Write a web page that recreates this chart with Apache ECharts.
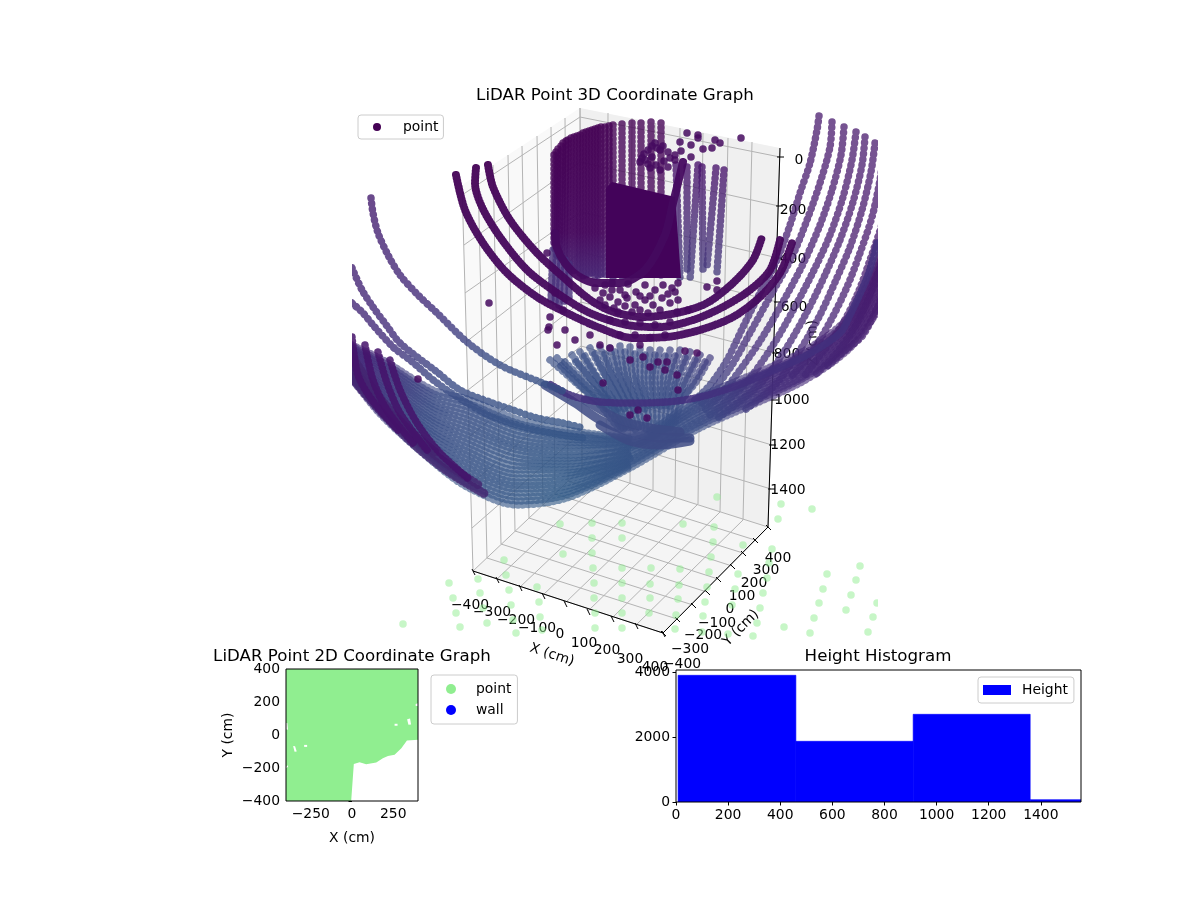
<!DOCTYPE html>
<html><head><meta charset="utf-8">
<style>html,body{margin:0;padding:0;background:#fff}#c{width:1200px;height:900px}</style>
<script src="https://cdn.jsdelivr.net/npm/echarts@6/dist/echarts.min.js"></script>
</head><body><div id="c"></div>
<script>
/* ---------- 3D panel: everything is read in the panel's view plane ---------- */
const paneLeft  = [[462,185],[580,108],[582,468],[473,571]];
const paneRight = [[580,108],[780,148],[768,527],[582,468]];
const paneFloor = [[473,571],[582,468],[768,527],[663,633]];
const panelMaskRight = [[878,100],[900,100],[900,636],[878,636]];
const panelMaskLeft  = [[335,100],[352,100],[352,636],[335,636]];

const xTickFront = [[473,571],[497,579],[520,587],[543,595],[565,603],[588,611],[612,618],[636,625],[663,633]];
const xTickBack  = [[582,468],[606,476],[630,483],[653,490],[675,497],[698,504],[720,512],[743,520],[768,527]];
const xTickTop   = [[580,108],[608,113],[632,118],[655,123],[680,128],[703,133],[728,138],[752,142],[780,148]];
const yTickFront = [[663,633],[677,619],[693,605],[707,592],[718,579],[732,566],[743,553],[755,540],[768,527]];
const yTickBack  = [[473,571],[487,558],[501,544],[515,531],[529,518],[543,505],[555,494],[568,481],[582,468]];
const yTickTop   = [[462,185],[478,175],[493,165],[508,155],[522,146],[537,136],[551,127],[565,118],[580,108]];
const zTickRight = [[780,157],[779,206],[778,258],[777,302],[775,353],[774,400],[772,445],[771,489]];
const zTickBack  = [[580,117],[580,162],[581,212],[581,252],[581,302],[581,346],[582,389],[582,432]];
const zTickLeft  = [[462,195],[464,245],[465,293],[466,342],[468,390],[469,437],[471,484],[472,528]];

const xTickLabels = ['−400','−300','−200','−100','0','100','200','300','400'];
const xTickLabelAt = [[470,605],[492,612],[516,620],[537,628],[560,634],[584,643],[607,650],[630,659],[655,667]];
const yTickLabels = ['−400','−300','−200','−100','0','100','200','300','400'];
const yTickLabelAt = [[682,664],[690,649],[703,635],[717,623],[730,609],[742,596],[754,583],[766,570],[778,558]];
const zTickLabels = ['0','200','400','600','800','1000','1200','1400'];
const zTickLabelAt = [[799,160],[793,210],[793,259],[794,307],[787,354],[792,400],[788,445],[788,490]];

const groundPoints = [[560,524],[592,523],[622,523],[592,538],[622,538],[563,554],[592,553],[504,560],[506,575],[593,568],[622,568],[449,583],[478,579],[594,583],[622,583],[509,590],[537,587],[480,593],[453,598],[594,598],[622,598],[511,605],[539,602],[483,608],[456,613],[595,613],[622,613],[540,617],[513,620],[487,623],[403,624],[460,627],[595,628],[622,628],[542,630],[516,633],[490,637],[717,497],[781,504],[812,509],[778,519],[683,524],[714,527],[713,542],[743,545],[772,549],[711,557],[769,563],[651,568],[680,569],[709,572],[860,566],[827,574],[738,574],[767,578],[856,580],[650,584],[679,585],[707,587],[735,589],[823,589],[763,593],[851,595],[650,598],[678,599],[705,602],[877,603],[819,603],[760,608],[846,610],[649,613],[676,615],[703,616],[873,617],[814,618],[732,605],[757,623],[784,627],[675,629],[702,632],[728,634],[810,633],[868,632],[753,636]];

const looseDark = [[489,303],[547,253],[549,327],[418,379],[603,383],[687,133],[698,135],[680,142],[691,145],[698,138],[715,140],[720,143],[712,148],[703,149],[741,138],[681,151],[691,157],[675,155],[668,152],[655,143],[648,150],[660,150],[645,160],[650,168],[660,170],[668,167],[675,160],[652,157],[640,162],[657,148],[652,146],[663,146],[644,154],[642,158],[656,165],[664,161],[670,158],[648,164],[605,285],[612,283],[620,290],[628,284],[636,292],[645,285],[655,290],[663,285],[672,288],[678,283],[610,297],[618,302],[627,298],[635,305],[645,300],[653,305],[662,298],[670,303],[678,300],[677,312],[660,310],[648,313],[632,312],[618,312],[605,305],[688,310],[707,287],[717,281],[717,290],[610,320],[625,322],[640,323],[655,325],[670,322],[620,335],[635,335],[650,338],[665,335],[600,345],[640,345],[590,335],[575,340],[565,330],[557,345],[610,348],[630,360],[643,357],[650,367],[658,362],[667,362],[665,370],[677,375],[685,351],[697,353],[678,390],[630,415],[638,410],[647,418],[550,317],[548,330],[563,310],[555,293],[603,293],[625,295],[612,290],[640,296],[650,296],[668,294],[675,292],[600,300],[595,288],[614,308],[625,306],[640,310]];

const innerArc  = [[488,165],[493,187],[510,220],[537,253],[563,277],[585,296],[600,306],[617,313],[643,317],[677,313],[707,303],[733,283],[753,260],[762,237]];
const middleArc = [[476,168],[475,183],[482,207],[500,237],[527,270],[557,293],[590,313],[627,325],[660,327],[693,320],[723,307],[750,290],[770,270],[780,240]];
const outerArc  = [[456,175],[465,210],[483,243],[507,273],[537,297],[567,313],[600,328],[633,338],[667,337],[700,330],[733,317],[760,297],[780,273],[792,243]];
const smallArc  = [[555,233],[557,248],[565,263],[578,276],[597,283],[620,283],[645,270],[665,235],[673,203],[678,183],[683,162]];

const cylinderTops = [[554,155],[556,152],[558,149],[561,146],[563,143],[566,141],[568,140],[571,138],[574,137],[577,136],[580,135],[583,133],[586,132],[589,131],[592,130],[595,129],[598,128],[601,127],[605,127],[609,126],[613,125],[622,124],[632,123],[641,123],[651,122],[661,123]];
const cylinderFeet = [[554,245],[555,250],[557,255],[559,259],[561,262],[564,265],[567,268],[570,270],[574,272],[577,274],[580,275],[583,276],[586,276],[589,277],[592,277],[595,277],[598,277],[601,277],[605,277],[609,277],[613,277],[622,277],[632,277],[641,277],[651,277],[661,277]];
const sideStripeTops = [[687,167],[698,165],[702,167],[716,168],[724,170],[676,165]];
const sideStripeFeet = [[687,273],[690,280],[703,270],[707,267],[717,272],[680,278]];
const streamTops = [[553,250],[557,252],[561,256],[565,260],[569,264]];
const streamFeet = [[551,300],[555,305],[559,306],[564,304],[569,300]];
const blockOutline = [[606,188],[612,182],[675,197],[681,278],[606,278]];

const arcA  = [[371,198],[373,213],[378,233],[388,255],[400,275],[418,295],[437,313],[467,342],[500,365],[540,382],[565,392]];
const arcB1 = [[352,268],[362,290],[373,307],[387,326],[400,343],[437,372],[460,390],[490,402],[513,410],[537,418],[563,423],[583,428]];
const arcB2 = [[352,303],[363,313],[373,325],[393,347],[410,360],[437,383],[467,403],[493,417],[535,430],[583,438]];
const arcBand = [[877,243],[868,275],[850,315],[840,333],[807,355],[767,373],[733,387],[700,397],[667,402],[633,403],[600,402],[570,395],[548,383]];

const darkLeft1 = [[390,360],[400,390],[417,423],[440,453],[470,480]];
const darkLeft2 = [[378,352],[387,383],[400,413],[427,450]];
const darkLeft3 = [[365,345],[373,380],[387,410],[413,443]];
const darkLeft4 = [[352,337],[358,375],[372,400],[398,430]];
const darkEdge1 = [[352,378],[383,414],[417,447],[450,473],[485,494]];
const darkEdge2 = [[352,368],[383,406],[417,440],[450,466],[480,486]];
const darkEdge3 = [[352,356],[375,392],[405,426],[435,452]];

const wedge1 = [[545,385],[575,403],[600,420],[630,432],[660,438],[690,438]];
const wedge2 = [[600,425],[630,441],[660,445],[690,441]];
const wedge3 = [[585,400],[620,420],[650,428],[680,432]];

const fanR1  = [[819,116],[817,130],[810,163],[800,193],[790,225],[777,260],[760,293],[743,327],[727,360],[710,385],[695,400]];
const fanR2  = [[832,122],[830,147],[820,183],[807,220],[792,257],[772,293],[750,333],[732,365],[712,392],[700,405]];
const fanR3  = [[844,127],[841,155],[832,190],[820,225],[804,262],[784,300],[762,338],[740,370],[720,395],[705,410]];
const fanR4  = [[856,132],[852,160],[843,197],[830,235],[815,268],[796,305],[775,342],[750,378],[728,400],[710,415]];
const fanR5  = [[865,137],[862,165],[853,202],[840,240],[825,275],[808,310],[787,347],[762,382],[735,405],[718,418]];
const fanR6  = [[875,143],[871,172],[862,210],[850,247],[836,280],[820,315],[800,350],[775,385],[745,410]];
const fanR7  = [[884,150],[880,180],[872,217],[860,253],[847,287],[831,320],[812,352],[790,378]];
const fanR8  = [[891,188],[882,224],[870,260],[858,293],[842,325],[824,350],[805,375]];
const fanR9  = [[892,232],[880,267],[868,300],[853,330],[835,355],[815,375]];
const fanR10 = [[890,275],[878,306],[863,335],[846,350],[825,368]];

const fanC = [
 [[550,360],[575,382],[600,405],[618,428]],[[557,358],[580,380],[605,405],[621,428]],
 [[565,362],[585,382],[610,405],[624,430]],[[572,355],[590,378],[613,405],[627,430]],
 [[580,352],[595,375],[617,405],[630,430]],[[590,348],[603,372],[622,405],[633,430]],
 [[600,347],[610,372],[627,405],[636,432]],[[610,348],[617,372],[632,405],[640,432]],
 [[620,346],[624,372],[637,405],[643,432]],[[630,347],[632,372],[642,405],[647,432]],
 [[640,349],[640,375],[647,405],[650,432]],[[650,350],[648,375],[652,405],[654,432]],
 [[660,350],[655,375],[657,405],[657,432]],[[670,350],[664,375],[662,405],[660,432]],
 [[680,350],[672,375],[667,403],[664,430]],[[690,352],[680,375],[672,402],[667,430]],
 [[700,355],[688,378],[677,402],[670,428]],[[710,358],[696,382],[682,400],[674,426]],
 [[561,366],[583,388],[608,410]],[[576,362],[593,382],[615,410]],[[585,356],[599,380],[620,410]],
 [[595,354],[607,378],[625,410]],[[605,354],[614,378],[630,410]],[[615,352],[621,378],[635,410]],
 [[625,352],[628,378],[640,410]],[[635,354],[636,378],[645,410]],[[645,355],[644,380],[650,410]],
 [[655,355],[652,380],[655,410]],[[665,356],[660,380],[660,410]],[[675,356],[668,380],[665,408]],
 [[685,358],[676,380],[670,406]],[[695,360],[684,382],[675,406]],[[705,362],[692,384],[680,404]]
];

const bowlRow0  = [[340,368],[352,380],[383,417],[433,462],[467,487],[517,505],[567,498],[630,468],[700,428],[800,383],[850,348],[885,300]];
const bowlRow1  = [[352,377],[383,412],[433,456],[467,479],[517,497],[567,492],[630,465],[700,425],[800,380],[850,345],[885,295]];
const bowlRow2  = [[352,374],[383,407],[433,449],[467,471],[517,489],[567,486],[630,462],[700,422],[800,378],[850,342],[885,289]];
const bowlRow3  = [[352,370],[383,401],[433,443],[467,463],[517,482],[567,479],[630,460],[700,420],[800,375],[850,339],[885,284]];
const bowlRow4  = [[352,367],[383,396],[433,436],[467,455],[517,474],[567,473],[630,457],[700,417],[800,372],[850,336],[885,278]];
const bowlRow5  = [[352,364],[383,391],[433,430],[467,447],[517,466],[567,467],[630,454],[700,414],[800,370],[850,333],[885,273]];
const bowlRow6  = [[352,361],[383,386],[433,423],[467,439],[517,458],[567,461],[630,451],[700,411],[800,367],[850,330],[885,267]];
const bowlRow7  = [[352,358],[383,381],[433,417],[467,431],[517,450],[567,455],[630,448],[700,408],[800,364],[850,327],[885,262]];
const bowlRow8  = [[352,354],[383,375],[433,410],[467,423],[517,443],[567,448],[630,446],[700,406],[800,361],[850,324],[885,256]];
const bowlRow9  = [[352,351],[383,370],[433,404],[467,415],[517,435],[567,442],[630,443],[700,403],[800,359],[850,321],[885,250]];
const bowlRow10 = [[352,348],[383,365],[433,397],[467,407],[517,427],[567,436],[630,440],[700,400],[800,356],[850,318],[885,245]];
const bowlRow11 = [[352,345],[383,360],[433,390],[467,399],[517,419],[567,430],[630,437],[700,397],[800,353],[850,315],[885,240]];
const bowlHalf0  = [[352,378.5],[383,414.5],[433,459],[467,483],[517,501],[567,495],[630,466.5]];
const bowlHalf1  = [[352,375.5],[383,409.5],[433,452.5],[467,475],[517,493],[567,489],[630,463.5]];
const bowlHalf2  = [[352,372],[383,404],[433,446],[467,467],[517,485.5],[567,482.5],[630,461]];
const bowlHalf3  = [[352,368.5],[383,398.5],[433,439.5],[467,459],[517,478],[567,476],[630,458.5]];
const bowlHalf4  = [[352,365.5],[383,393.5],[433,433],[467,451],[517,470],[567,470],[630,455.5]];
const bowlHalf5  = [[352,362.5],[383,388.5],[433,426.5],[467,443],[517,462],[567,464],[630,452.5]];
const bowlHalf6  = [[352,359.5],[383,383.5],[433,420],[467,435],[517,454],[567,458],[630,449.5]];
const bowlHalf7  = [[352,356],[383,378],[433,413.5],[467,427],[517,446.5],[567,451.5],[630,447]];
const bowlHalf8  = [[352,352.5],[383,372.5],[433,407],[467,419],[517,439],[567,445],[630,444.5]];
const bowlHalf9  = [[352,349.5],[383,367.5],[433,400.5],[467,411],[517,431],[567,439],[630,441.5]];
const bowlHalf10 = [[352,346.5],[383,362.5],[433,393.5],[467,403],[517,423],[567,433],[630,438.5]];

/* ---------- 2D coordinate map ---------- */
const mapTicksX = [-250,0,250];
const mapGreen  = [[-400,-400],[-5,-400],[11,-175],[46,-165],[86,-177],[147,-167],[187,-141],[218,-127],[258,-120],[299,-80],[333,-33],[400,-29],[400,400],[-400,400]];
const mapHole1  = [[-400,72],[-392,72],[-388,32],[-400,35]];
const mapHole2  = [[-357,-66],[-345,-68],[-335,-100],[-348,-102]];
const mapHole3  = [[-290,-60],[-272,-60],[-272,-72],[-290,-72]];
const mapHole4  = [[-400,-192],[-388,-184],[-388,-194],[-400,-200]];
const mapHole5  = [[258,68],[276,68],[276,56],[258,56]];
const mapHole6  = [[334,96],[352,100],[358,64],[342,62]];
const mapHole7  = [[386,188],[400,192],[400,176],[386,176]];

/* ---------- histogram ---------- */
const histEdges  = [8,460,910,1359,1809];
const histCounts = [3897,1867,2697,72];
const histTicksX = [0,200,400,600,800,1000,1200,1400];

/* ---------- styles ---------- */
const FONT = '"DejaVu Sans"';
const bowlGrad = {type:'radial',x:560,y:500,r:400,global:true,colorStops:[
  {offset:0,color:'#315a87'},{offset:.4,color:'#3a4c85'},{offset:.6,color:'#432c7a'},{offset:1,color:'#46176b'}]};
const topGrad = {type:'linear',x:0,y:130,x2:0,y2:320,global:true,colorStops:[
  {offset:0,color:'#440154'},{offset:1,color:'#450a5f'}]};
const cylGrad = {type:'linear',x:0,y:130,x2:0,y2:300,global:true,colorStops:[
  {offset:0,color:'#440154'},{offset:.6,color:'#45075c'},{offset:1,color:'#473480'}]};
const stripeGrad = {type:'linear',x:0,y:165,x2:0,y2:285,global:true,colorStops:[
  {offset:0,color:'#47116a'},{offset:1,color:'#46407f'}]};

const series = [];
function poly(list,color,grid,z,name){
  series.push({type:'custom',name:name,xAxisIndex:grid,yAxisIndex:grid,z:z,silent:true,animation:false,
    clip:true,
    data:list.map(p=>[p[0][0],p[0][1]]),
    renderItem:(params,api)=>({type:'polygon',
      shape:{points:list[params.dataIndex].map(p=>api.coord(p))},
      style:{fill:color}})});
}
function segs(list,color,width,z){
  series.push({type:'custom',xAxisIndex:0,yAxisIndex:0,z:z,silent:true,animation:false,clip:false,
    data:list,
    renderItem:(params,api)=>{
      const a=api.coord([api.value(0),api.value(1)]),b=api.coord([api.value(2),api.value(3)]);
      return {type:'line',shape:{x1:a[0],y1:a[1],x2:b[0],y2:b[1]},style:{stroke:color,lineWidth:width,fill:null}};
    }});
}
const join=(a,b)=>a.map((p,i)=>[p[0],p[1],b[i][0],b[i][1]]);
function texts(at,labels,rotate,z){
  series.push({type:'scatter',xAxisIndex:0,yAxisIndex:0,z:z,silent:true,animation:false,clip:false,symbolSize:0,
    itemStyle:{opacity:1},
    data:at.map((p,i)=>({value:p,label:{formatter:labels[i]}})),
    label:{show:true,position:'inside',color:'#000',textBorderWidth:0,fontFamily:FONT,fontSize:13.9,rotate:rotate||0}});
}
function dots(arc,color,opts){
  opts=opts||{};
  series.push({type:'line',name:opts.name,xAxisIndex:1,yAxisIndex:1,z:opts.z||5,silent:true,animation:false,clip:true,
    showSymbol:false,symbol:'none',smooth:opts.smooth===undefined?0.3:opts.smooth,connectNulls:false,
    data:arc,
    lineStyle:{width:opts.w||7,color:color,opacity:opts.o||0.72,cap:'round',join:'round',
      type:opts.solid?'solid':[0.1,opts.gap||6]}});
}

/* panes and wall grid */
poly([paneLeft],'#f9f9f9',0,1);
poly([paneRight],'#f0f0f0',0,1);
poly([paneFloor],'#f5f5f5',0,1);
const gridCol='#b4b4b4';
segs(join(xTickBack,xTickTop),gridCol,1,1.1);
segs(join(yTickBack,yTickTop),gridCol,1,1.1);
segs(join(zTickLeft,zTickBack),gridCol,1,1.1);
segs(join(zTickBack,zTickRight),gridCol,1,1.1);
segs(join(xTickFront,xTickBack),gridCol,1,1.1);
segs(join(yTickFront,yTickBack),gridCol,1,1.1);
/* axis lines */
segs([[473,571,663,633],[663,633,768,527],[780,148,768,527]],'#000',1,1.2);
segs(xTickFront.map(p=>[p[0]-1,p[1]-2,p[0]+2,p[1]+4]),'#000',1,1.2);
segs(yTickFront.map(p=>[p[0]-2,p[1]-2,p[0]+3,p[1]+3]),'#000',1,1.2);
segs(zTickRight.map(p=>[p[0]-3,p[1],p[0]+4,p[1]]),'#000',1,1.2);
/* tick labels and axis names */
texts(xTickLabelAt,xTickLabels,0,1.3);
texts(yTickLabelAt,yTickLabels,0,1.3);
texts(zTickLabelAt,zTickLabels,0,1.3);
texts([[552,655]],['X (cm)'],-18,1.3);
texts([[741,628]],['Y (cm)'],45,1.3);
texts([[813,343]],['Z (cm)'],92,1.3);

/* ground shadow */
series.push({type:'scatter',xAxisIndex:1,yAxisIndex:1,z:2,silent:true,animation:false,clip:true,
  data:groundPoints,symbolSize:7.5,itemStyle:{color:'#90ee90',opacity:0.5}});

/* bowl rows, fans, arcs */
[bowlRow0,bowlRow1,bowlRow2,bowlRow3,bowlRow4,bowlRow5,bowlRow6,bowlRow7,bowlRow8,bowlRow9,bowlRow10,bowlRow11,
 bowlHalf0,bowlHalf1,bowlHalf2,bowlHalf3,bowlHalf4,bowlHalf5,bowlHalf6,bowlHalf7,bowlHalf8,bowlHalf9,bowlHalf10]
  .forEach(r=>dots(r,bowlGrad,{z:3,gap:5,o:.62,w:7.5}));
[darkEdge3,darkEdge2,darkEdge1].forEach(r=>dots(r,'#44246f',{z:3.1,gap:4,o:.8,w:9}));
[fanR1,fanR2,fanR3,fanR4,fanR5,fanR6,fanR7,fanR8,fanR9,fanR10].forEach(r=>dots(r,bowlGrad,{z:3,gap:5.5,o:.74,w:7.5}));
fanC.forEach(r=>dots(r,bowlGrad,{z:3,gap:5.5,o:.68,w:7.5}));
[wedge3,wedge1,wedge2].forEach(r=>dots(r,'#3d4a84',{z:3.2,solid:true,w:9,o:.85}));
dots(arcBand,'#42307d',{z:3.4,gap:4,o:.88,w:7.5});
[arcA,arcB1,arcB2].forEach(r=>dots(r,bowlGrad,{z:3.4,gap:5.5,o:.8,w:7.5}));
[darkLeft4,darkLeft3,darkLeft2,darkLeft1].forEach(r=>dots(r,'#44126a',{z:3.5,gap:4,o:.85,w:7.5}));

/* cylinder and stripes */
cylinderTops.forEach((t,i)=>dots([t,cylinderFeet[i]],cylGrad,{z:4,gap:4.5,smooth:false,o:.78,w:7.5}));
sideStripeTops.forEach((t,i)=>dots([t,sideStripeFeet[i]],stripeGrad,{z:4,gap:5,smooth:false,o:.78,w:7.5}));
streamTops.forEach((t,i)=>dots([t,streamFeet[i]],'#47307b',{z:4,gap:4,smooth:false,o:.8,w:7.5}));
[innerArc,middleArc,outerArc].forEach(r=>dots(r,topGrad,{z:5,gap:3,o:.95,w:8}));
poly([blockOutline],'#43035a',1,6);
dots(smallArc,'#450a5f',{z:6,solid:true,w:8,o:.95});

/* loose returns: named "point" for the 3D legend */
series.push({type:'scatter',name:'point',xAxisIndex:1,yAxisIndex:1,z:7,silent:true,animation:false,clip:true,
  data:looseDark,symbolSize:7.5,itemStyle:{color:'#450a5f',opacity:.85}});

/* panel boundary: marks stop at the panel's edge */
poly([panelMaskRight,panelMaskLeft],'#ffffff',0,8);

/* 2D map */
poly([mapGreen],'#90ee90',2,2,'point2d');
poly([mapHole1,mapHole2,mapHole3,mapHole4,mapHole5,mapHole6,mapHole7],'#ffffff',2,3);
series.push({type:'scatter',name:'wall',xAxisIndex:2,yAxisIndex:2,data:[],itemStyle:{color:'#0000ff',opacity:1},animation:false});

/* histogram */
series.push({type:'custom',name:'Height',xAxisIndex:3,yAxisIndex:3,z:2,silent:true,animation:false,clip:true,
  itemStyle:{color:'#0000ff'},
  data:histCounts.map((c,i)=>[histEdges[i],c,histEdges[i+1]]),
  encode:{x:[0,2],y:1},
  renderItem:(params,api)=>{
    const a=api.coord([api.value(0),api.value(1)]),b=api.coord([api.value(2),0]);
    return {type:'rect',shape:{x:a[0],y:a[1],width:b[0]-a[0],height:b[1]-a[1]},style:{fill:'#0000ff',stroke:'#0000ff',lineWidth:.6}};
  }});

const tickLabel={color:'#000',fontFamily:FONT,fontSize:13.9,margin:6,hideOverlap:false,
  formatter:v=>String(v).replace('-','−')};
const lineBlack={show:false};
const tick={show:true,length:3.5,lineStyle:{color:'#000',width:1},inside:false};
const titleStyle={color:'#000',fontFamily:FONT,fontSize:16.67,fontWeight:'normal'};
const legendBase={orient:'vertical',selectedMode:false,borderColor:'#cccccc',borderWidth:1,borderRadius:3,
  backgroundColor:'rgba(255,255,255,.8)',z:20,
  textStyle:{color:'#000',fontFamily:FONT,fontSize:13.9}};

const option={
  backgroundColor:'#fff',animation:false,
  title:[
    {text:'LiDAR Point 3D Coordinate Graph',left:615,top:87,textAlign:'center',textStyle:titleStyle,padding:0},
    {text:'LiDAR Point 2D Coordinate Graph',left:352,top:648,textAlign:'center',textStyle:titleStyle,padding:0},
    {text:'Height Histogram',left:878,top:648,textAlign:'center',textStyle:titleStyle,padding:0}
  ],
  legend:[
    {...legendBase,left:358,top:115,padding:[5,5,5,15],itemWidth:8,itemHeight:8,
      textStyle:{...legendBase.textStyle,padding:[0,0,0,17]},
      data:[{name:'point',icon:'circle',itemStyle:{color:'#440154',opacity:1}}]},
    {...legendBase,left:431,top:675,padding:[7,6,7,15],itemGap:7,itemWidth:10,itemHeight:10,
      textStyle:{...legendBase.textStyle,padding:[0,0,0,15]},
      data:[{name:'point2d',icon:'circle',itemStyle:{color:'#90ee90',opacity:1}},{name:'wall',icon:'circle',itemStyle:{color:'#0000ff',opacity:1}}],
      formatter:n=>n==='point2d'?'point':n},
    {...legendBase,left:978,top:677,padding:[6,6,6,5],itemWidth:28,itemHeight:10,
      textStyle:{...legendBase.textStyle,padding:[0,0,0,6]},
      data:[{name:'Height',icon:'rect',itemStyle:{color:'#0000ff'}}]}
  ],
  grid:[
    {left:0,top:0,width:1200,height:900,show:false},
    {left:352,top:100,width:526,height:536,show:false},
    {left:286,top:669,width:132,height:132,show:true,borderColor:'#000',borderWidth:1,backgroundColor:'transparent',z:4},
    {left:676,top:670,width:405,height:132,show:true,borderColor:'#000',borderWidth:1,backgroundColor:'transparent',z:4}
  ],
  xAxis:[
    {gridIndex:0,type:'value',min:0,max:1200,show:false},
    {gridIndex:1,type:'value',min:352,max:878,show:false},
    {gridIndex:2,type:'value',min:-400,max:400,name:'X (cm)',nameLocation:'middle',nameGap:30,
      nameTextStyle:{color:'#000',fontFamily:FONT,fontSize:13.9},splitLine:{show:false},axisLine:lineBlack,
      axisTick:{...tick,customValues:mapTicksX},axisLabel:{...tickLabel,customValues:mapTicksX}},
    {gridIndex:3,type:'value',min:0,max:1554,splitLine:{show:false},axisLine:lineBlack,
      axisTick:{...tick,customValues:histTicksX},axisLabel:{...tickLabel,customValues:histTicksX}}
  ],
  yAxis:[
    {gridIndex:0,type:'value',min:0,max:900,inverse:true,show:false},
    {gridIndex:1,type:'value',min:100,max:636,inverse:true,show:false},
    {gridIndex:2,type:'value',min:-400,max:400,interval:200,name:'Y (cm)',nameLocation:'middle',nameGap:51,
      nameTextStyle:{color:'#000',fontFamily:FONT,fontSize:13.9},splitLine:{show:false},axisLine:lineBlack,
      axisTick:tick,axisLabel:tickLabel},
    {gridIndex:3,type:'value',min:0,max:4060,splitLine:{show:false},axisLine:lineBlack,
      axisTick:{...tick,customValues:[0,2000,4000]},axisLabel:{...tickLabel,customValues:[0,2000,4000]}}
  ],
  series:series
};
const chart=echarts.init(document.getElementById('c'),null,{renderer:'canvas',width:1200,height:900});
chart.setOption(option);
</script></body></html>
